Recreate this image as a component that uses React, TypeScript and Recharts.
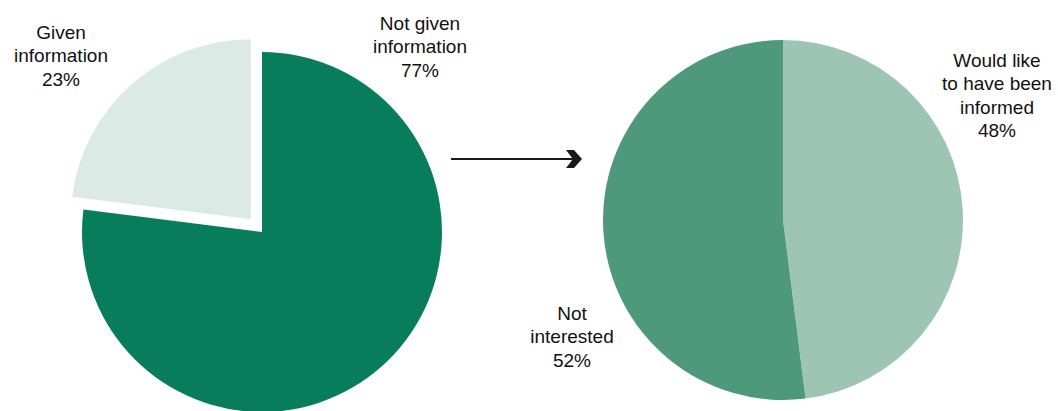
import React from 'react';
import { PieChart, Pie, Cell } from 'recharts';

const leftNames = ['Not given information', 'Given information'];
const leftValues = [77, 23];
const leftLines = [['Not given', 'information'], ['Given', 'information']];

const rightNames = ['Would like to have been informed', 'Not interested'];
const rightValues = [48, 52];
const rightLines = [['Would like', 'to have been', 'informed'], ['Not', 'interested']];

const leftColors = ['#077d5c', '#dbeae5'];
const rightColors = ['#9ec5b4', '#4e997b'];

// label block centres, relative to each pie's centre
const leftLabelOffsets = [[158, -186], [-201, -177]];
const rightLabelOffsets = [[214, -125], [-211, 116]];

const leftData = leftNames.map((name, i) => ({ name, value: leftValues[i] }));
const rightData = rightNames.map((name, i) => ({ name, value: rightValues[i] }));

const FONT = 'Liberation Sans, Arial, sans-serif';
const LINE_H = 23.5;

const makeLabel = (lines: string[][], offsets: number[][]) => (props: any) => {
  const { cx, cy, index, value } = props;
  const rows = [...lines[index], `${value}%`];
  const x = cx + offsets[index][0];
  const yMid = cy + offsets[index][1];
  const y0 = yMid - ((rows.length - 1) * LINE_H) / 2;
  return (
    <text x={x} y={y0} textAnchor="middle" dominantBaseline="central" fontFamily={FONT} fontSize={19} fill="#111">
      {rows.map((r, i) => (
        <tspan key={i} x={x} y={y0 + i * LINE_H}>{r}</tspan>
      ))}
    </text>
  );
};

export default function App() {
  const lcx = 262, lcy = 232, lr = 180;
  const rcx = 783, rcy = 220, rr = 180;
  // explode the "given" slice along its mid angle
  const total = leftValues[0] + leftValues[1];
  const mid = 90 - (360 * (leftValues[0] + leftValues[1] / 2)) / total;
  const explode = 17;
  const ex = explode * Math.cos((mid * Math.PI) / 180);
  const ey = -explode * Math.sin((mid * Math.PI) / 180);

  return (
    <div style={{ position: 'absolute', left: 0, top: 0, width: 1058, height: 411, background: '#fff' }}>
      <PieChart width={1058} height={411} margin={{ top: 0, right: 0, bottom: 0, left: 0 }}>
        <Pie
          data={leftData}
          dataKey="value"
          cx={lcx}
          cy={lcy}
          outerRadius={lr}
          startAngle={90}
          endAngle={-270}
          stroke="none"
          isAnimationActive={false}
          labelLine={false}
          label={makeLabel(leftLines, leftLabelOffsets)}
        >
          {leftData.map((d, i) => (
            <Cell key={d.name} fill={i === 0 ? leftColors[0] : 'transparent'} />
          ))}
        </Pie>
        <Pie
          data={leftData}
          dataKey="value"
          cx={lcx + ex}
          cy={lcy + ey}
          outerRadius={lr}
          startAngle={90}
          endAngle={-270}
          stroke="none"
          isAnimationActive={false}
        >
          {leftData.map((d, i) => (
            <Cell key={d.name} fill={i === 1 ? leftColors[1] : 'transparent'} />
          ))}
        </Pie>
        <Pie
          data={rightData}
          dataKey="value"
          cx={rcx}
          cy={rcy}
          outerRadius={rr}
          startAngle={90}
          endAngle={-270}
          stroke="none"
          isAnimationActive={false}
          labelLine={false}
          label={makeLabel(rightLines, rightLabelOffsets)}
        >
          {rightData.map((d, i) => (
            <Cell key={d.name} fill={rightColors[i]} />
          ))}
        </Pie>
      </PieChart>
      <svg width={1058} height={411} style={{ position: 'absolute', left: 0, top: 0, pointerEvents: 'none' }}>
        <line x1={451} y1={159} x2={574} y2={159} stroke="#1a1a1a" strokeWidth={2.2} />
        <polygon points="566,150 574,150 582,159 574,168 566,168 573,159" fill="#1a1a1a" />
      </svg>
    </div>
  );
}
